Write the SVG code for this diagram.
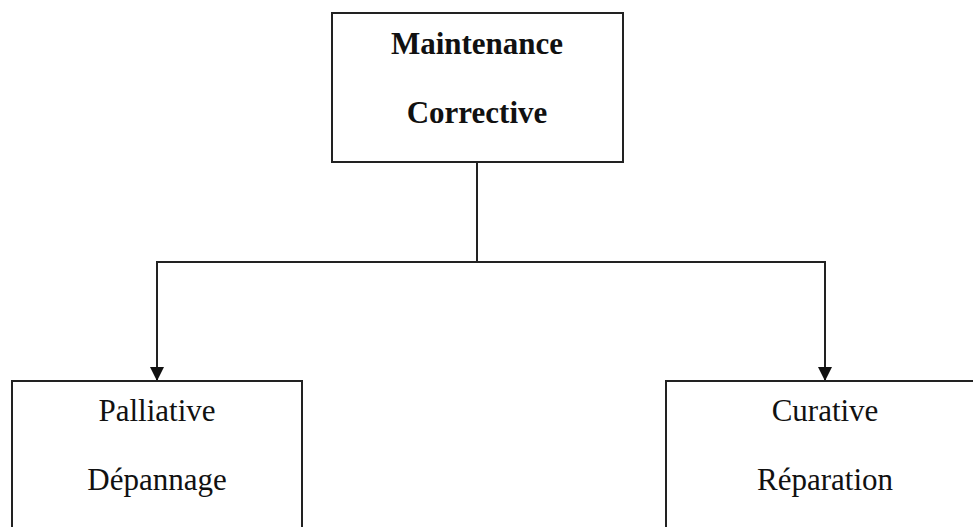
<svg xmlns="http://www.w3.org/2000/svg" width="973" height="527" viewBox="0 0 973 527">
<style>
.box{fill:#fff;stroke:#222;stroke-width:2}
.t{font-family:"Liberation Serif","Times New Roman",serif;font-size:31px;fill:#111;text-anchor:middle}
.b{font-weight:bold}
.c{fill:none;stroke:#222;stroke-width:2}
</style>
<defs>
<marker id="arr" markerWidth="14" markerHeight="14" refX="7" refY="13" orient="auto" markerUnits="userSpaceOnUse" viewBox="0 0 14 14">
<path d="M0,0 L14,0 L7,14 Z" fill="#111"/>
</marker>
</defs>
<rect width="973" height="527" fill="#fff"/>
<g id="connectors">
<line class="c" x1="477" y1="162" x2="477" y2="262"/>
<polyline class="c" points="157,380 157,262 825,262 825,380"/>
<path d="M150,367 L164,367 L157,381 Z" fill="#111"/>
<path d="M818,367 L832,367 L825,381 Z" fill="#111"/>
</g>
<g id="node-corrective">
<rect class="box" x="332" y="13" width="291" height="149"/>
<text class="t b" x="477" y="54">Maintenance</text>
<text class="t b" x="477" y="123">Corrective</text>
</g>
<g id="node-palliative">
<rect class="box" x="12" y="381" width="290" height="160"/>
<text class="t" x="157" y="421">Palliative</text>
<text class="t" x="157" y="490">Dépannage</text>
</g>
<g id="node-curative">
<rect class="box" x="666" y="381" width="320" height="160"/>
<text class="t" x="825" y="421">Curative</text>
<text class="t" x="825" y="490">Réparation</text>
</g>
</svg>
